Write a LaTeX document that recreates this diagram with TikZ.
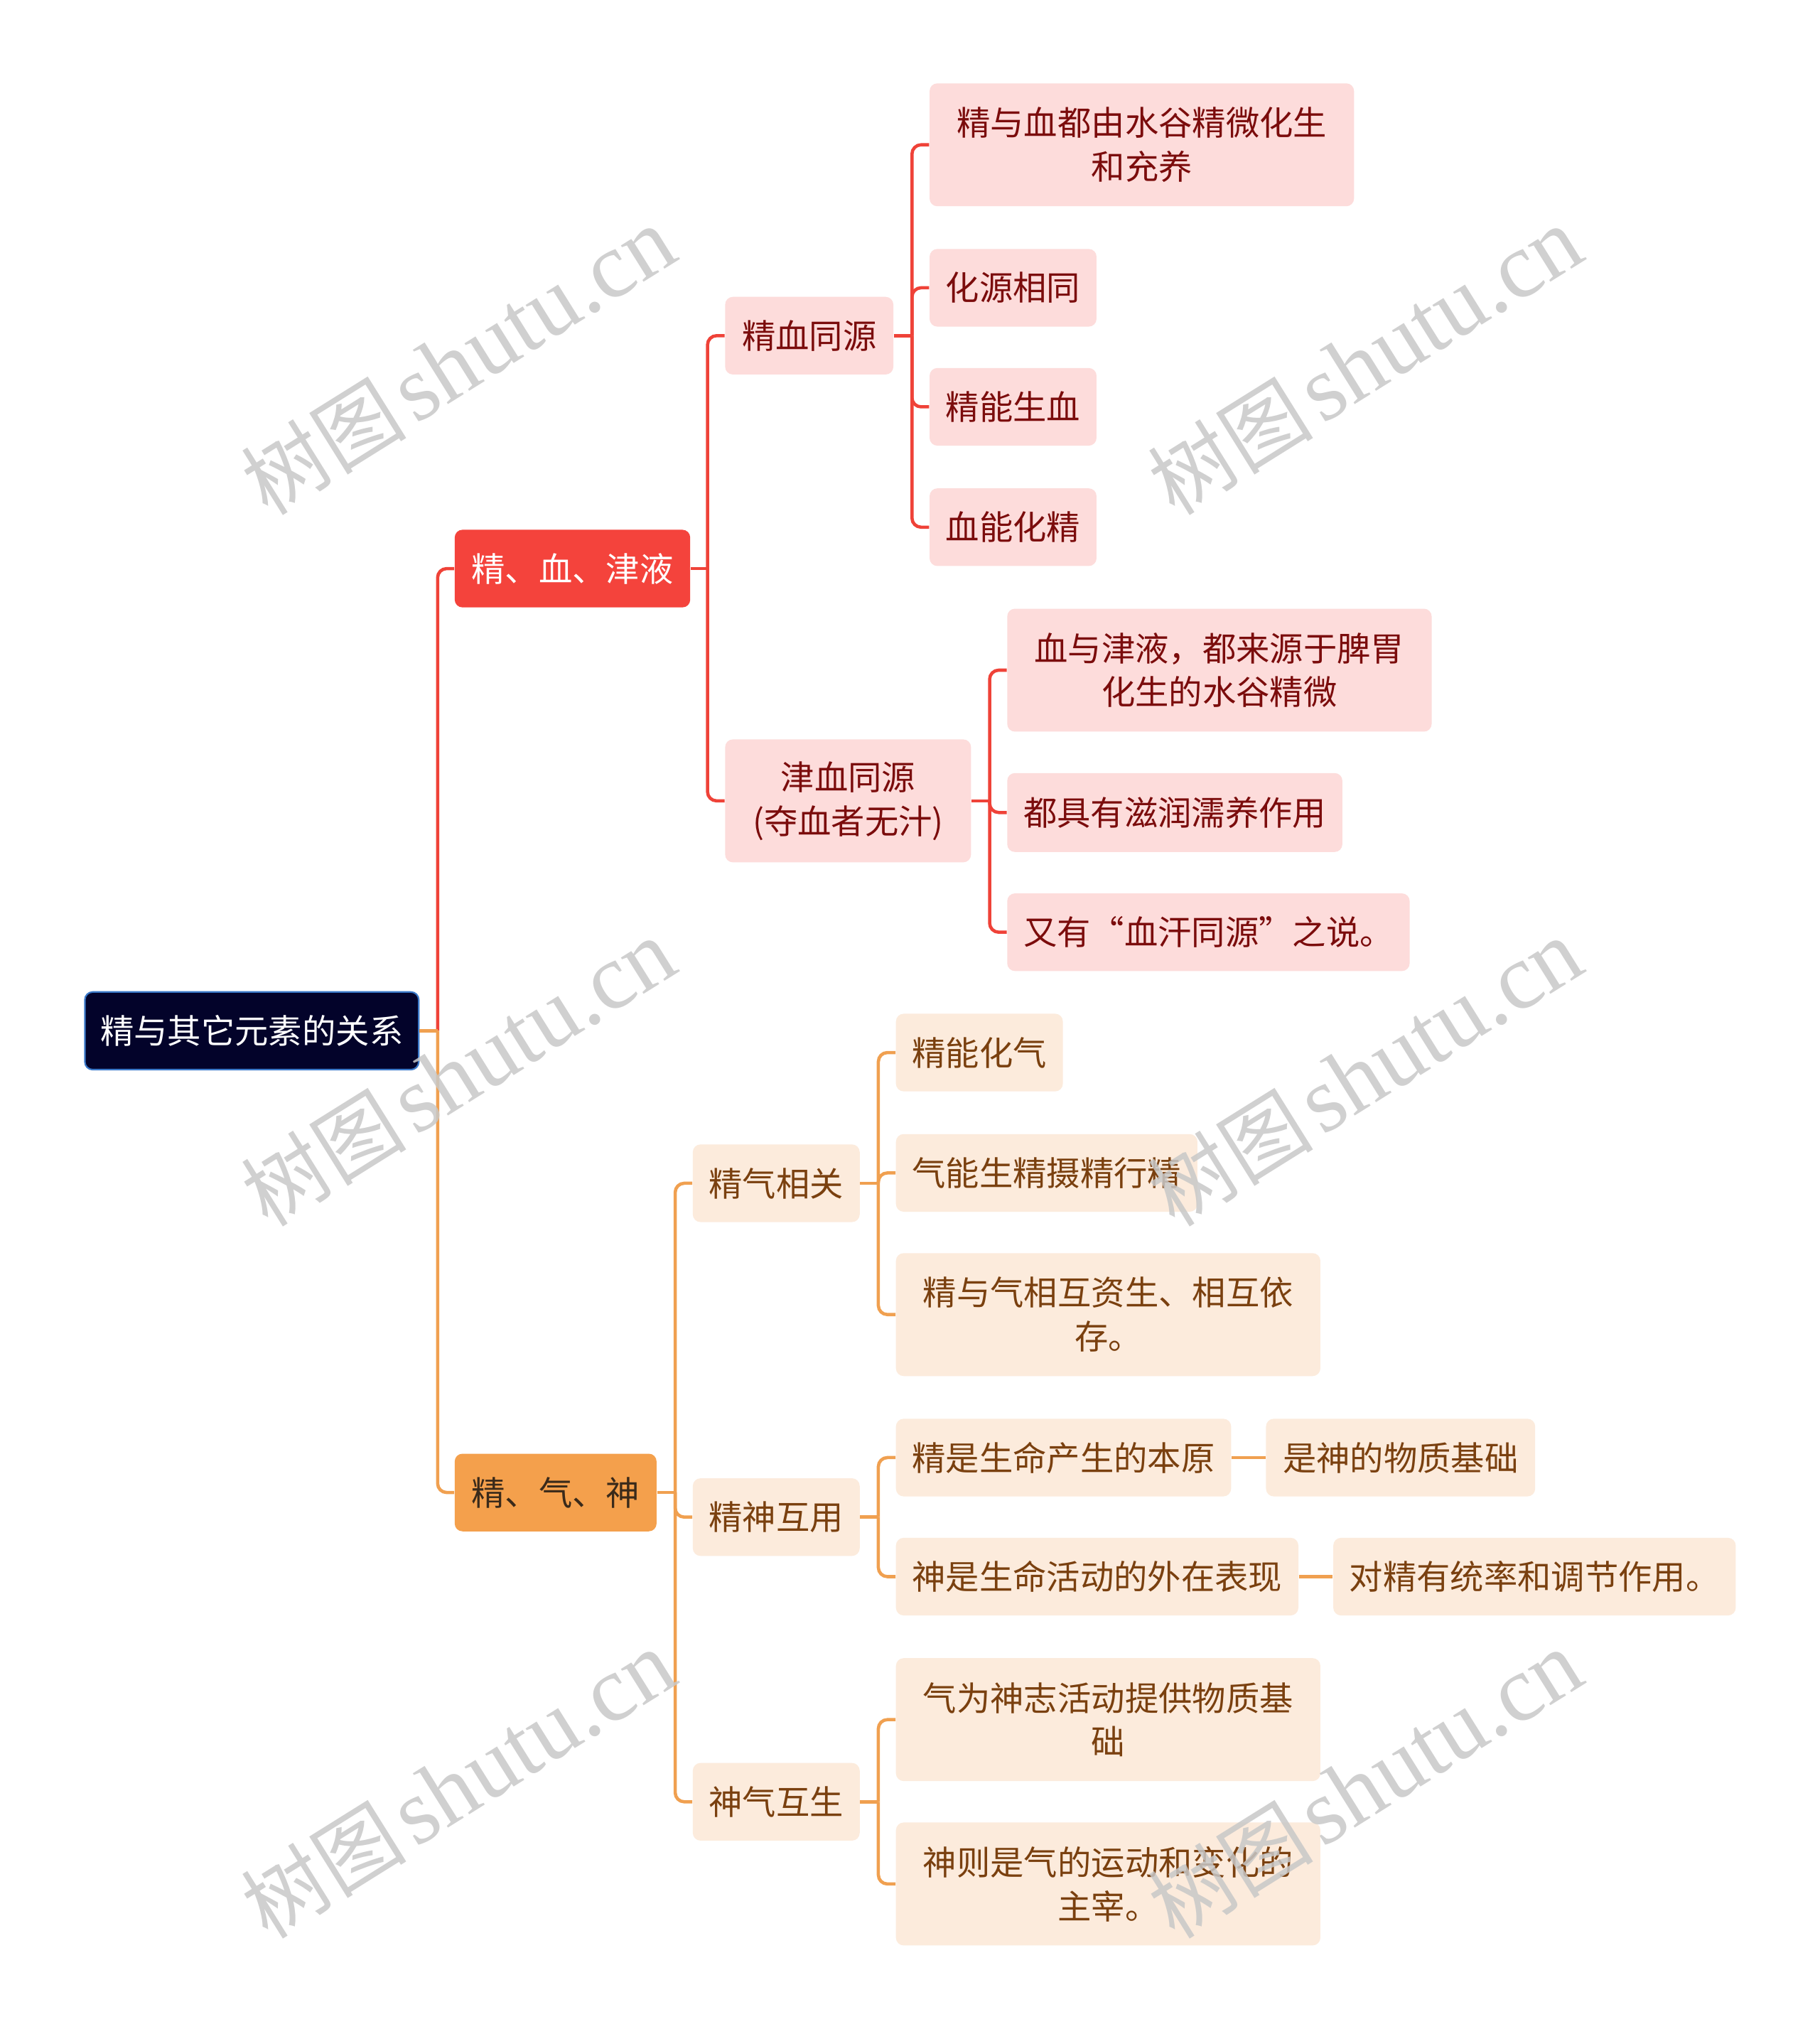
\documentclass[tikz,border=0pt]{standalone}
\usepackage{fontspec}
\newfontfamily\cjk{Noto Sans CJK SC}
\newfontfamily\wmlat{Liberation Serif}
\definecolor{rootfill}{HTML}{03032A}
\definecolor{rootborder}{HTML}{3A78C8}
\definecolor{redmain}{HTML}{F4433C}
\definecolor{redline}{HTML}{EF4238}
\definecolor{pinkfill}{HTML}{FDDCDB}
\definecolor{redtext}{HTML}{7B0C0C}
\definecolor{orgmain}{HTML}{F4A04C}
\definecolor{orgline}{HTML}{F0A050}
\definecolor{peachfill}{HTML}{FCEBDC}
\definecolor{browntext}{HTML}{7A400F}
\definecolor{orgtext}{HTML}{3A2A1A}
\definecolor{wmgray}{HTML}{C8C8C8}
\begin{document}
\begin{tikzpicture}[x=0.5pt,y=-0.5pt,
  sz/.style 2 args={minimum width=#1*0.5pt, minimum height=#2*0.5pt},
  box/.style={rounded corners=3pt, inner sep=0pt, align=center, anchor=north west,
              font=\cjk\fontsize{13}{17}\selectfont},
  redsub/.style={box, fill=pinkfill, text=redtext},
  orgsub/.style={box, fill=peachfill, text=browntext},
  redln/.style={draw=redline, line width=1.25pt, rounded corners=3.5pt},
  orgln/.style={draw=orgline, line width=1.25pt, rounded corners=3.5pt},
  wm/.style={rotate=32, text=wmgray, inner sep=0pt, opacity=0.85}]
\useasboundingbox[fill=white] (0,0) rectangle (1406,1568);

% root and first level
\node[box, fill=rootfill, draw=rootborder, line width=0.6pt, text=white, sz={258}{60}] (root) at (65,766) {精与其它元素的关系};
\node[box, fill=redmain, text=white, sz={182}{60}] (jx) at (351,409) {精、血、津液};
\node[box, fill=orgmain, text=orgtext, sz={156}{60}] (jq) at (351,1123) {精、气、神};

% red branch
\node[redsub, sz={130}{60}] (a1) at (560,229) {精血同源};
\node[redsub, sz={190}{95}] (a2) at (560,571) {津血同源\\(夺血者无汁)};
\node[redsub, sz={328}{95}] (b1) at (718,64) {精与血都由水谷精微化生\\和充养};
\node[redsub, sz={129}{60}] (b2) at (718,192) {化源相同};
\node[redsub, sz={129}{60}] (b3) at (718,284) {精能生血};
\node[redsub, sz={129}{60}] (b4) at (718,377) {血能化精};
\node[redsub, sz={328}{95}] (c1) at (778,470) {血与津液，都来源于脾胃\\化生的水谷精微};
\node[redsub, sz={259}{61}] (c2) at (778,597) {都具有滋润濡养作用};
\node[redsub, sz={311}{60}] (c3) at (778,690) {又有“血汗同源”之说。};

% orange branch
\node[orgsub, sz={129}{60}] (d1) at (535,884) {精气相关};
\node[orgsub, sz={129}{60}] (d2) at (535,1142) {精神互用};
\node[orgsub, sz={129}{60}] (d3) at (535,1362) {神气互生};
\node[orgsub, sz={129}{60}] (e1) at (692,783) {精能化气};
\node[orgsub, sz={233}{60}] (e2) at (692,876) {气能生精摄精行精};
\node[orgsub, sz={328}{95}] (e3) at (692,968) {精与气相互资生、相互依\\存。};
\node[orgsub, sz={259}{60}] (f1) at (692,1096) {精是生命产生的本原};
\node[orgsub, sz={208}{60}] (f1b) at (978,1096) {是神的物质基础};
\node[orgsub, sz={311}{60}] (f2) at (692,1188) {神是生命活动的外在表现};
\node[orgsub, sz={311}{60}] (f2b) at (1030,1188) {对精有统率和调节作用。};
\node[orgsub, sz={328}{95}] (g1) at (692,1281) {气为神志活动提供物质基\\础};
\node[orgsub, sz={328}{95}] (g2) at (692,1408) {神则是气的运动和变化的\\主宰。};

% junctions
\path (root.east) ++(14,0) coordinate (jr);
\path (jx.east) ++(13,0) coordinate (jxj);
\path (jq.east) ++(14,0) coordinate (jqj);
\path (a1.east) ++(14,0) coordinate (a1j);
\path (a2.east) ++(14,0) coordinate (a2j);
\path (d1.east) ++(14,0) coordinate (d1j);
\path (d2.east) ++(14,0) coordinate (d2j);
\path (d3.east) ++(14,0) coordinate (d3j);

% connectors
\draw[redln] (jr) |- (jx.west);
\draw[orgln] (jr) |- (jq.west);
\draw[orgln] (root.east) -- (jr);

\draw[redln] (jx.east) -- (jxj);
\draw[redln] (jxj) |- (a1.west);
\draw[redln] (jxj) |- (a2.west);
\draw[redln] (a1.east) -- (a1j);
\draw[redln] (a1j) |- (b1.west);
\draw[redln] (a1j) |- (b2.west);
\draw[redln] (a1j) |- (b3.west);
\draw[redln] (a1j) |- (b4.west);
\draw[redln] (a2.east) -- (a2j);
\draw[redln] (a2j) |- (c1.west);
\draw[redln] (a2j) |- (c2.west);
\draw[redln] (a2j) |- (c3.west);

\draw[orgln] (jq.east) -- (jqj);
\draw[orgln] (jqj) |- (d1.west);
\draw[orgln] (jqj) |- (d2.west);
\draw[orgln] (jqj) |- (d3.west);
\draw[orgln] (d1.east) -- (d1j);
\draw[orgln] (d1j) |- (e1.west);
\draw[orgln] (d1j) |- (e2.west);
\draw[orgln] (d1j) |- (e3.west);
\draw[orgln] (d2.east) -- (d2j);
\draw[orgln] (d2j) |- (f1.west);
\draw[orgln] (d2j) |- (f2.west);
\draw[orgln] (f1.east) -- (f1b.west);
\draw[orgln] (f2.east) -- (f2b.west);
\draw[orgln] (d3.east) -- (d3j);
\draw[orgln] (d3j) |- (g1.west);
\draw[orgln] (d3j) |- (g2.west);

% watermarks
\foreach \wx/\wy [count=\i] in {354/279, 1055/279, 354/829, 1055/829, 354/1379, 1055/1379}
  \node[wm] (wm\i) at (\wx,\wy) {{\cjk\fontsize{32}{32}\selectfont 树图} {\wmlat\fontsize{36}{36}\selectfont shutu.cn}};
\end{tikzpicture}
\end{document}
